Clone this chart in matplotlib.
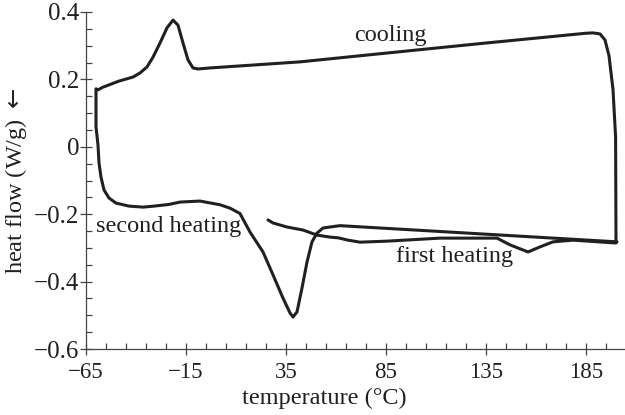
import numpy as np
import matplotlib
matplotlib.use("Agg")
import matplotlib.pyplot as plt
from matplotlib.ticker import MultipleLocator, FixedLocator

plt.rcParams['font.family'] = ['Liberation Serif', 'DejaVu Serif']

INK = '#231f20'

# cooling run (200 -> -60 C)
cool_T = [200, 199.8, 198.5, 196.5, 194.5, 192, 188.5, 185, 135, 85, 42, -3, -9, -11.5,
          -14, -16.5, -19, -21.5, -24.5, -28, -31.5, -34.5, -38, -41.5, -48.5, -56.5, -59, -60]
cool_q = [-0.285, 0.029, 0.17, 0.27, 0.317, 0.335, 0.338, 0.337, 0.308, 0.278, 0.252, 0.234, 0.231, 0.234,
          0.258, 0.308, 0.361, 0.376, 0.353, 0.308, 0.266, 0.237, 0.219, 0.207, 0.195, 0.177, 0.169, 0.172]

# second heating (-60 -> 200 C)
heat2_T = [-60, -60, -59, -58.5, -57.5, -56, -53.5, -50, -43.5, -36.5, -31, -23.5, -18, -8, 2, 7,
           12, 17, 23.5, 28.5, 33.5, 37, 38.5, 40.5, 43, 45.5, 48, 50.5, 53.5, 57, 62, 200.5]
heat2_q = [0.169, 0.059, 0.005, -0.048, -0.090, -0.128, -0.152, -0.167, -0.176, -0.179, -0.176,
           -0.171, -0.164, -0.161, -0.172, -0.182, -0.198, -0.253, -0.312, -0.380, -0.449, -0.493,
           -0.505, -0.490, -0.419, -0.342, -0.282, -0.256, -0.241, -0.238, -0.234, -0.282]

# first heating (26 -> 200 C)
heat1_T = [26, 28.5, 35.5, 43.5, 50.5, 57, 61, 66, 72, 85.5, 112, 140.5, 147, 156, 162, 168.5,
           178.5, 198.5, 200]
heat1_q = [-0.217, -0.226, -0.238, -0.247, -0.262, -0.268, -0.270, -0.277, -0.283, -0.280, -0.271,
           -0.271, -0.291, -0.312, -0.297, -0.282, -0.277, -0.285, -0.285]

fig = plt.figure(figsize=(6.25, 4.15), dpi=100)
ax = fig.add_axes([86/625, 66/415, 539/625, 337/415])

for T, q in [(cool_T, cool_q), (heat2_T, heat2_q), (heat1_T, heat1_q)]:
    ax.plot(T, q, color=INK, lw=2.2, solid_joinstyle='round', solid_capstyle='round')

ax.set_xlim(-65, 204.5)
ax.set_ylim(-0.6, 0.4)

ax.xaxis.set_major_locator(FixedLocator([-65, -15, 35, 85, 135, 185]))
ax.xaxis.set_minor_locator(MultipleLocator(10, offset=5))
ax.yaxis.set_major_locator(MultipleLocator(0.2))
ax.yaxis.set_minor_locator(MultipleLocator(0.05))
ax.yaxis.set_major_formatter(lambda v, p: '0' if abs(v) < 1e-9 else f'{v:.1f}'.replace('-', '\u2212'))

for s in ['top', 'right']:
    ax.spines[s].set_visible(False)
for s in ['left', 'bottom']:
    ax.spines[s].set_color('#444444')
    ax.spines[s].set_linewidth(0.9)

ax.tick_params(which='major', direction='inout', length=8, width=0.9, color='#444444',
               labelcolor=INK)
ax.tick_params(which='minor', direction='in', length=4.5, width=0.9, color='#444444')
ax.tick_params(axis='y', which='major', pad=1, labelsize=18)
ax.tick_params(axis='x', which='major', pad=5, labelsize=16.5)

ax.set_xlabel('temperature (\u00b0C)', fontsize=17.5, color=INK)
ax.xaxis.set_label_coords(0.443, -0.115)
ax.set_ylabel('heat flow (W/g) $\\leftarrow$', fontsize=17.5, color=INK)
ax.yaxis.set_label_coords(-0.105, 0.5)

ax.text(87, 0.33, 'cooling', fontsize=17.5, color=INK, ha='center', va='center')
ax.text(-23.5, -0.236, 'second heating', fontsize=17.5, color=INK, ha='center', va='center')
ax.text(119.5, -0.325, 'first heating', fontsize=17.5, color=INK, ha='center', va='center')

fig.savefig('out.png', dpi=100)
